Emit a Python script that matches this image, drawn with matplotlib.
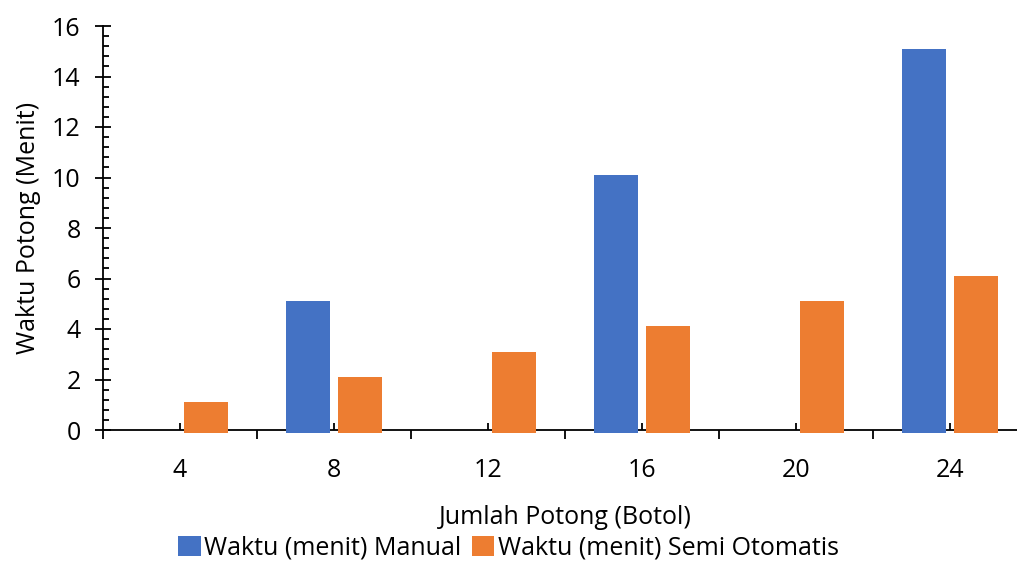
import numpy as np
import matplotlib
matplotlib.use('Agg')
import matplotlib.pyplot as plt
from matplotlib.ticker import MultipleLocator

plt.rcParams['font.family'] = ['Open Sans', 'DejaVu Sans']

# Data
jumlah = ['4', '8', '12', '16', '20', '24']
manual = [0, 5.1, 0, 10.1, 0, 15.1]
semi_otomatis = [1.1, 2.1, 3.1, 4.1, 5.1, 6.1]

blue = '#4472C4'
orange = '#ED7D31'

fig = plt.figure(figsize=(10.17, 5.61), dpi=100)
ax = fig.add_axes([103 / 1017, 131 / 561, 924 / 1017, 404 / 561])

x = np.arange(len(jumlah))
w = 0.283
off = 0.167

# bars sit slightly below the baseline, like the spreadsheet version
for vals, dx, col, lab in [(manual, -off, blue, 'Waktu (menit) Manual'),
                           (semi_otomatis, off, orange, 'Waktu (menit) Semi Otomatis')]:
    vals = np.array(vals, dtype=float)
    bottoms = np.where(vals > 0, -0.12, 0.0)
    ax.bar(x + dx, vals - bottoms, w, bottom=bottoms, color=col, label=lab,
           zorder=3, clip_on=False)

ax.set_xlim(-0.5, len(jumlah) - 0.5)
ax.set_ylim(0, 16)

for s in ['top', 'right']:
    ax.spines[s].set_visible(False)
for s in ['left', 'bottom']:
    ax.spines[s].set_linewidth(1.3)
    ax.spines[s].set_color('black')

ax.set_xticks(x)
ax.set_xticklabels(jumlah)
ax.set_xticks(np.arange(-0.5, len(jumlah)), minor=True)
ax.tick_params(axis='x', which='major', direction='in', length=5, width=1.3,
               labelsize=18, pad=20)
ax.tick_params(axis='x', which='minor', direction='out', length=6.5, width=1.3)

ax.yaxis.set_major_locator(MultipleLocator(2))
ax.yaxis.set_minor_locator(MultipleLocator(0.4))
ax.tick_params(axis='y', which='major', direction='inout', length=12, width=1.3,
               labelsize=18, pad=10)
ax.tick_params(axis='y', which='minor', direction='in', length=4.5, width=1.3)

ax.set_xlabel('Jumlah Potong (Botol)', fontsize=18, labelpad=16)
ax.set_ylabel('Waktu Potong (Menit)', fontsize=18, labelpad=8)

fig.legend(loc='center', bbox_to_anchor=(0.5, 1 - 548 / 561), ncol=2, frameon=False,
           fontsize=18, handlelength=0.9, handleheight=0.9, handletextpad=0.15,
           columnspacing=0.4, borderaxespad=0)

fig.savefig('out.png', dpi=100)
